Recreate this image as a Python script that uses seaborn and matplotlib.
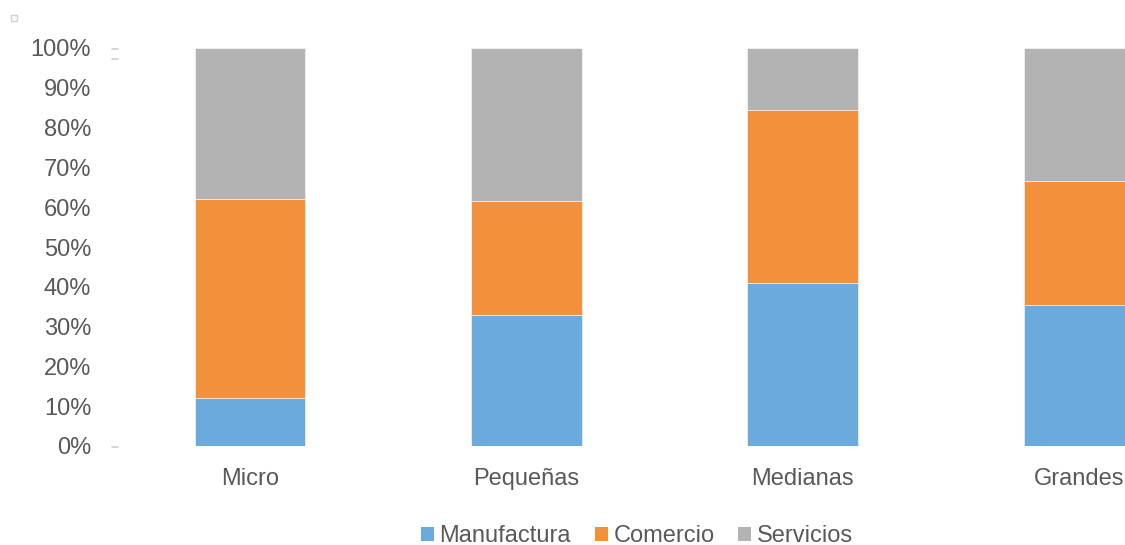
import matplotlib
matplotlib.use("Agg")
import matplotlib.pyplot as plt
import seaborn as sns
import pandas as pd
from matplotlib.patches import Patch, Rectangle
from matplotlib.lines import Line2D
from matplotlib.ticker import PercentFormatter

categories = ["Micro", "Pequeñas", "Medianas", "Grandes"]
manufactura = [0.12, 0.33, 0.41, 0.355]
comercio = [0.50, 0.285, 0.435, 0.31]
servicios = [0.38, 0.385, 0.155, 0.335]
series_names = ["Manufactura", "Comercio", "Servicios"]
colors = ["#6AAADC", "#F2903C", "#B3B3B3"]

sns.set_theme(style="white")
plt.rcParams["font.family"] = ["Liberation Sans", "DejaVu Sans"]
text_color = "#595959"
fs = 17

df = pd.DataFrame({"cat": categories, "Manufactura": manufactura,
                   "Comercio": comercio, "Servicios": servicios})
df["c1"] = df["Manufactura"]
df["c2"] = df["c1"] + df["Comercio"]
df["c3"] = df["c2"] + df["Servicios"]

fig = plt.figure(figsize=(11.25, 5.45), dpi=100)
ax = fig.add_axes([112/1125, (545-446)/545, 1 - 112/1125, (446-48)/545])

for col, color in zip(["c3", "c2", "c1"], colors[::-1]):
    sns.barplot(data=df, x="cat", y=col, color=color, width=0.40,
                ax=ax, saturation=1, edgecolor="#f0f0f0", linewidth=0.6)

ax.set_xlim(-0.5, 3 + (1125 - 1079) / 276.5)
ax.set_ylim(0, 1.0)
ax.set_yticks([i / 10 for i in range(11)])
ax.yaxis.set_major_formatter(PercentFormatter(1.0, decimals=0))
ax.set_xlabel("")
ax.set_ylabel("")
for s in ax.spines.values():
    s.set_visible(False)
ax.tick_params(axis="y", length=0, pad=15, labelsize=fs, labelcolor=text_color)
ax.tick_params(axis="x", length=0, pad=16, labelsize=fs, labelcolor=text_color)

# faint artifacts present in the reference
def px(x, y):
    return x / 1125, 1 - y / 545
fig.add_artist(Rectangle(px(11, 21), 6/1125, 6/545, transform=fig.transFigure,
                         facecolor="none", edgecolor="#d0d0d0", linewidth=1))
for (x0, x1, y) in [(112, 118, 48.5), (112, 118, 58.5), (112, 118, 446.5)]:
    a, b = px(x0, y)
    c, _ = px(x1, y)
    fig.add_artist(Line2D([a, c], [b, b], transform=fig.transFigure,
                          color="#d0d0d0", linewidth=1.2))

handles = [Patch(facecolor=c, edgecolor="none") for c in colors]
fig.legend(handles, series_names, loc="center", bbox_to_anchor=(637/1125, 1 - 536/545),
           ncol=3, frameon=False, fontsize=fs, labelcolor=text_color,
           handlelength=0.55, handleheight=0.55, handletextpad=0.25, columnspacing=1.0)

fig.savefig("out.png", dpi=100)
